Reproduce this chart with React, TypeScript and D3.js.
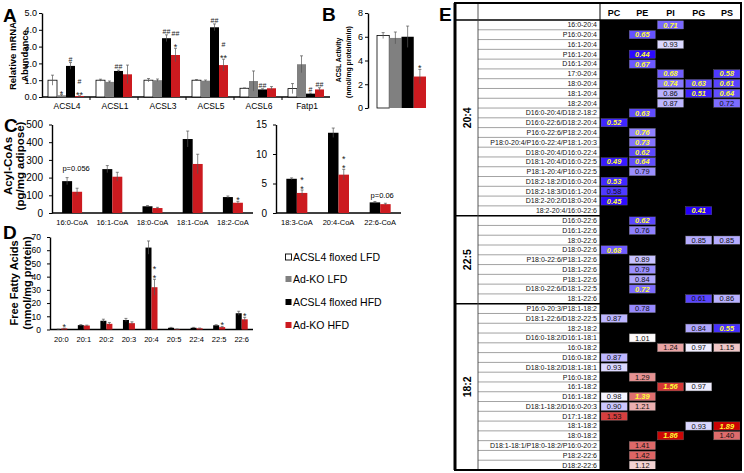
import React, { useRef, useEffect } from 'react';
import * as d3 from 'd3';

const FONT = 'Liberation Sans, Arial, Helvetica, sans-serif';

// ---- A: relative mRNA abundance
const genes = ['ACSL4', 'ACSL1', 'ACSL3', 'ACSL5', 'ACSL6', 'Fatp1'];
const groupNames = ['ACSL4 floxed LFD', 'Ad-KO LFD', 'ACSL4 floxed HFD', 'Ad-KO HFD'];
const groupColors = ['#ffffff', '#808080', '#000000', '#cc1a1f'];
const mrnaFloxLFD = [1.0, 1.0, 1.0, 1.0, 0.52, 0.5];
const mrnaKoLFD = [0.1, 0.9, 1.0, 0.97, 0.95, 1.95];
const mrnaFloxHFD = [1.85, 1.55, 3.5, 4.15, 0.45, 0.2];
const mrnaKoHFD = [0.05, 1.35, 2.5, 1.9, 0.52, 0.45];
const mrnaErrFloxLFD = [0.3, 0.06, 0.1, 0.04, 0.02, 0.3];
const mrnaErrKoLFD = [0.04, 0.05, 0.07, 0.04, 0.6, 0.5];
const mrnaErrFloxHFD = [0.2, 0.05, 0.2, 0.2, 0.04, 0.03];
const mrnaErrKoHFD = [0.02, 0.55, 0.4, 0.35, 0.1, 0.1];
const mrnaSigKoLFD = ['*', '', '', '', '', ''];
const mrnaSigFloxHFD = ['#', '##', '##', '##', '##', '#'];
const mrnaSigKoHFD = ['#|**', '', '##|*', '#|**', '', '##'];

// ---- B: ACSL activity
const activity = [6.1, 5.9, 6.0, 2.65];
const activityErr = [0.25, 0.5, 0.9, 0.6];
const activitySig = ['', '', '', '*'];

// ---- C: acyl-CoAs
const coaLeft = ['16:0-CoA', '16:1-CoA', '18:0-CoA', '18:1-CoA', '18:2-CoA'];
const coaLeftFlox = [180, 248, 38, 418, 90];
const coaLeftFloxErr = [20, 20, 4, 45, 6];
const coaLeftKo = [120, 205, 28, 277, 58];
const coaLeftKoErr = [20, 25, 4, 55, 8];
const coaLeftSig = ['', '', '', '', '*'];
const coaRight = ['18:3-CoA', '20:4-CoA', '22:6-CoA'];
const coaRightFlox = [5.8, 13.6, 1.8];
const coaRightFloxErr = [0.15, 0.8, 0.15];
const coaRightKo = [3.4, 6.5, 1.5];
const coaRightKoErr = [0.5, 0.9, 0.15];
const coaRightSig = ['*|*', '*|*', ''];

// ---- D: free fatty acids
const ffaCats = ['20:0', '20:1', '20:2', '20:3', '20:4', '20:5', '22:4', '22:5', '22:6'];
const ffaFlox = [0.2, 3.3, 6.6, 7.2, 62, 1.3, 1.3, 3.2, 12.3];
const ffaFloxErr = [0.1, 0.4, 1.2, 1.2, 5, 0.3, 0.3, 0.4, 1.5];
const ffaKo = [0.8, 3.0, 4.3, 4.8, 32, 0.3, 0.9, 1.8, 7.7];
const ffaKoErr = [0.2, 0.3, 1.0, 1.0, 6, 0.1, 0.2, 0.5, 1.5];
const ffaSig = ['*', '', '', '', '*|*', '', '', '*', '*'];

// ---- E: lipid species heatmap (fold change)
const heatClasses = ['PC', 'PE', 'PI', 'PG', 'PS'];
const heatGroupNames = ['20:4', '22:5', '18:2'];
const heatGroupSizes = [20, 9, 17];
const heatRowLabels = [
  '16:0-20:4', 'P16:0-20:4', '16:1-20:4', 'P16:1-20:4', 'D16:1-20:4', '17:0-20:4', '18:0-20:4',
  '18:1-20:4', '18:2-20:4', 'D16:0-20:4/D18:2-18:2', 'D16:0-22:6/D18:2-20:4', 'P16:0-22:6/P18:2-20:4',
  'P18:0-20:4/P16:0-22:4/P18:1-20:3', 'D18:0-20:4/D16:0-22:4', 'D18:1-20:4/D16:0-22:5',
  'P18:1-20:4/P16:0-22:5', 'D18:2-18:2/D16:0-20:4', 'D18:2-18:3/D16:1-20:4', 'D18:2-20:2/D18:0-20:4',
  '18:2-20:4/16:0-22:6',
  'D16:0-22:6', 'D16:1-22:6', '18:0-22:6', 'D18:0-22:6', 'P18:0-22:6/P18:1-22:6', 'D18:1-22:6',
  'P18:1-22:6', 'D18:0-22:6/D18:1-22:5', '18:1-22:6',
  'P16:0-20:3/P18:1-18:2', 'D18:1-22:6/D18:2-22:5', '18:2-18:2', 'D16:0-18:2/D16:1-18:1', '16:0-18:2',
  'D16:0-18:2', 'D18:0-18:2/D18:1-18:1', 'P16:0-18:2', '16:1-18:2', 'D16:1-18:2', 'D18:1-18:2/D16:0-20:3',
  'D17:1-18:2', '18:1-18:2', '18:0-18:2', 'D18:1-18:1/P18:0-18:2/P16:0-20:2', 'P18:2-22:6', 'D18:2-22:6',
];
const n = null;
const heatValues: (number | null)[][] = [
  [n, n, 0.71, n, n], [n, 0.65, n, n, n], [n, n, 0.93, n, n], [n, 0.44, n, n, n], [n, 0.67, n, n, n],
  [n, n, 0.68, n, 0.58], [n, n, 0.74, 0.63, 0.61], [n, n, 0.86, 0.51, 0.64], [n, n, 0.87, n, 0.72],
  [n, 0.63, n, n, n], [0.52, n, n, n, n], [n, 0.76, n, n, n], [n, 0.73, n, n, n], [n, 0.62, n, n, n],
  [0.49, 0.64, n, n, n], [n, 0.79, n, n, n], [0.53, n, n, n, n], [0.58, n, n, n, n], [0.45, n, n, n, n],
  [n, n, n, 0.41, n],
  [n, 0.62, n, n, n], [n, 0.76, n, n, n], [n, n, n, 0.85, 0.85], [0.68, n, n, n, n], [n, 0.89, n, n, n],
  [n, 0.79, n, n, n], [n, 0.84, n, n, n], [n, 0.72, n, n, n], [n, n, n, 0.61, 0.86],
  [n, 0.78, n, n, n], [0.87, n, n, n, n], [n, n, n, 0.84, 0.55], [n, 1.01, n, n, n], [n, n, 1.24, 0.97, 1.15],
  [0.87, n, n, n, n], [0.93, n, n, n, n], [n, 1.29, n, n, n], [n, n, 1.56, 0.97, n], [0.98, 1.39, n, n, n],
  [0.90, 1.21, n, n, n], [1.53, n, n, n, n], [n, n, n, 0.93, 1.89], [n, n, 1.86, n, 1.40],
  [n, 1.41, n, n, n], [n, 1.42, n, n, n], [n, 1.12, n, n, n],
];
const heatSig = [
  'PI', 'PE', '', 'PE', 'PE', 'PI PS', 'PI PG PS', 'PG PS', '', 'PE', 'PC', 'PE', 'PE', 'PE', 'PC PE', '',
  'PC', '', 'PC', 'PG',
  'PE', '', '', 'PC', '', '', '', 'PE', '',
  '', '', 'PS', '', '', '', '', '', 'PI', 'PE', '', '', 'PS', 'PI', '', '', '',
];

const App = () => {
  const svgRef = useRef<SVGSVGElement>(null);

  useEffect(() => {
    const svg = d3.select(svgRef.current);
    svg.selectAll('*').remove();
    svg.append('rect').attr('width', 744).attr('height', 473).attr('fill', '#fff');

    const text = (x: number, y: number, s: string, size: number, weight = 'normal', anchor = 'start') =>
      svg.append('text').attr('x', x).attr('y', y).text(s)
        .attr('font-family', FONT).attr('font-size', size).attr('font-weight', weight)
        .attr('text-anchor', anchor).attr('fill', '#000');

    const vText = (cx: number, cy: number, s: string, size: number, weight = 'bold') =>
      svg.append('text').attr('transform', `translate(${cx},${cy}) rotate(-90)`)
        .attr('dy', '0.35em').text(s).attr('text-anchor', 'middle')
        .attr('font-family', FONT).attr('font-size', size).attr('font-weight', weight);

    const yAxis = (scale: any, x: number, ticks: number[], size: number, pad: number) => {
      const ax = svg.append('g').attr('transform', `translate(${x},0)`)
        .call(d3.axisLeft(scale).tickValues(ticks).tickSize(3).tickSizeOuter(0).tickPadding(pad));
      ax.attr('font-family', FONT).attr('font-size', size);
      ax.select('.domain').attr('stroke-width', 1.4);
      ax.selectAll('.tick line').attr('stroke-width', 1);
      return ax;
    };

    const xLine = (x0: number, x1: number, y: number) =>
      svg.append('line').attr('x1', x0).attr('x2', x1).attr('y1', y).attr('y2', y)
        .attr('stroke', '#000').attr('stroke-width', 1.4);

    // stacked significance marks above a point
    const sigMarks = (cx: number, top: number, s: string) => {
      if (!s) return;
      const lines = s.split('|');
      let cursor = top - 1;
      for (let k = lines.length - 1; k >= 0; k--) {
        const ln = lines[k];
        const star = ln.includes('*');
        text(cx, star ? cursor + 3 : cursor, ln, star ? 9 : 7, 'normal', 'middle').attr('fill', '#222');
        const upper = lines[k - 1];
        cursor -= upper && upper.includes('*') ? 9 : 11;
      }
    };

    const groupedBars = (cats: string[], means: number[][], errs: number[][], sigs: (string[] | null)[],
      colors: string[], x0: number, x1: number, barW: number, y: any) => {
      const band = d3.scaleBand().domain(cats).range([x0, x1]);
      const g = svg.append('g');
      const eg = svg.append('g');
      means.forEach((series, j) => {
        const off = -means.length * barW / 2 + j * barW;
        cats.forEach((c, i) => {
          const bx = (band(c) as number) + band.bandwidth() / 2 + off;
          const v = series[i];
          const e = errs[j][i];
          const white = colors[j] === '#ffffff';
          g.append('rect').attr('x', bx).attr('y', y(v)).attr('width', barW)
            .attr('height', y(0) - y(v)).attr('fill', colors[j])
            .attr('stroke', white ? '#000' : 'none').attr('stroke-width', 0.8);
          const cx = bx + barW / 2;
          if (e > 0) {
            eg.append('line').attr('x1', cx).attr('x2', cx).attr('y1', y(v + e)).attr('y2', y(Math.max(0, v - e)))
              .attr('stroke', '#555').attr('stroke-width', 0.7);
            eg.append('line').attr('x1', cx - 1.5).attr('x2', cx + 1.5).attr('y1', y(v + e)).attr('y2', y(v + e))
              .attr('stroke', '#555').attr('stroke-width', 0.7);
          }
          const sg = sigs[j];
          if (sg) sigMarks(cx, y(v + e), sg[i]);
        });
      });
      return band;
    };

    // ================= Panel A
    text(3, 22, 'A', 19, 'bold');
    vText(13, 56, 'Relative mRNA', 9.5);
    vText(25, 56, 'Abundance', 9.5);
    const yA = d3.scaleLinear().domain([0, 5]).range([97, 13]);
    yAxis(yA, 42, [0, 1, 2, 3, 4, 5], 9, 2);
    xLine(42, 330, 97);
    const bandA = groupedBars(genes, [mrnaFloxLFD, mrnaKoLFD, mrnaFloxHFD, mrnaKoHFD],
      [mrnaErrFloxLFD, mrnaErrKoLFD, mrnaErrFloxHFD, mrnaErrKoHFD],
      [null, mrnaSigKoLFD, mrnaSigFloxHFD, mrnaSigKoHFD], groupColors, 42, 330, 9, yA);
    genes.forEach((c, i) => {
      const bx = (bandA(c) as number) + bandA.bandwidth();
      if (i < genes.length - 1)
        svg.append('line').attr('x1', bx).attr('x2', bx).attr('y1', 97).attr('y2', 100).attr('stroke', '#000');
      text((bandA(c) as number) + bandA.bandwidth() / 2 + 1, 109, c, 8.5, 'normal', 'middle');
    });

    // ================= Panel B
    text(322, 21, 'B', 19, 'bold');
    vText(339, 60, 'ACSL Activity', 6.8);
    vText(348.5, 62, '(nmol/mg protein/min)', 6.8);
    const yB = d3.scaleLinear().domain([0, 8]).range([108, 13]);
    yAxis(yB, 368, [0, 2, 4, 6, 8], 9, 2);
    const bandB = d3.scaleBand().domain(groupNames).range([377, 426]);
    groupNames.forEach((gname, i) => {
      const bx = bandB(gname) as number;
      const v = activity[i];
      const e = activityErr[i];
      svg.append('rect').attr('x', bx).attr('y', yB(v)).attr('width', bandB.bandwidth())
        .attr('height', yB(0) - yB(v)).attr('fill', groupColors[i])
        .attr('stroke', i === 0 ? '#000' : 'none').attr('stroke-width', 0.8);
      const cx = bx + bandB.bandwidth() / 2;
      svg.append('line').attr('x1', cx).attr('x2', cx).attr('y1', yB(v + e)).attr('y2', yB(v - e))
        .attr('stroke', '#555').attr('stroke-width', 0.7);
      svg.append('line').attr('x1', cx - 1.5).attr('x2', cx + 1.5).attr('y1', yB(v + e)).attr('y2', yB(v + e))
        .attr('stroke', '#555').attr('stroke-width', 0.7);
      sigMarks(cx, yB(v + e), activitySig[i]);
    });

    // ================= Panel C
    text(4, 132, 'C', 19, 'bold');
    vText(8, 166, 'Acyl-CoAs', 11.5);
    vText(20, 166, '(pg/mg adipose)', 11.5);
    const yC = d3.scaleLinear().domain([0, 500]).range([213, 124.5]);
    yAxis(yC, 52, [0, 100, 200, 300, 400, 500], 10, 6);
    xLine(52, 253, 213);
    const bandC = groupedBars(coaLeft, [coaLeftFlox, coaLeftKo], [coaLeftFloxErr, coaLeftKoErr],
      [null, coaLeftSig], ['#000000', '#cc1a1f'], 52, 253, 10, yC);
    coaLeft.forEach(c => text((bandC(c) as number) + bandC.bandwidth() / 2, 225, c, 7.5, 'normal', 'middle'));
    text((bandC('16:0-CoA') as number) + bandC.bandwidth() / 2 + 4, 171, 'p=0.056', 7.5, 'normal', 'middle');

    const yC2 = d3.scaleLinear().domain([0, 15]).range([213, 124.5]);
    yAxis(yC2, 276, [0, 5, 10, 15], 10, 6);
    xLine(276, 401, 213);
    const bandC2 = groupedBars(coaRight, [coaRightFlox, coaRightKo], [coaRightFloxErr, coaRightKoErr],
      [null, coaRightSig], ['#000000', '#cc1a1f'], 276, 401, 10.5, yC2);
    coaRight.forEach(c => text((bandC2(c) as number) + bandC2.bandwidth() / 2, 225, c, 7.5, 'normal', 'middle'));
    text((bandC2('22:6-CoA') as number) + bandC2.bandwidth() / 2 + 2, 198, 'p=0.06', 7.5, 'normal', 'middle');

    // legend
    groupNames.forEach((gname, i) => {
      const ly = [257, 279, 302, 325][i];
      svg.append('rect').attr('x', 285.5).attr('y', ly - 3).attr('width', 6).attr('height', 6)
        .attr('fill', groupColors[i]).attr('stroke', i === 0 ? '#000' : 'none').attr('stroke-width', 0.9);
      text(293, ly + 4, gname, 10.5);
    });

    // ================= Panel D
    text(3, 239, 'D', 19, 'bold');
    vText(14, 283, 'Free Fatty Acids', 11);
    vText(27, 283, '(nmol/mg protein)', 11);
    const yD = d3.scaleLinear().domain([0, 70]).range([329.5, 237]);
    yAxis(yD, 50, d3.range(0, 71, 10), 8.5, 6);
    xLine(50, 253, 329.5);
    const bandD = groupedBars(ffaCats, [ffaFlox, ffaKo], [ffaFloxErr, ffaKoErr], [null, ffaSig],
      ['#000000', '#cc1a1f'], 50, 253, 6, yD);
    ffaCats.forEach(c => text((bandD(c) as number) + bandD.bandwidth() / 2, 342, c, 7.5, 'normal', 'middle'));

    // ================= Panel E heatmap
    text(439, 21, 'E', 19, 'bold');
    const hx0 = 455, hGroupR = 478, hLabelR = 600, hx1 = 741;
    const hy0 = 3, hHead = 20, hy1 = 470;
    const col = d3.scaleBand().domain(heatClasses).range([hLabelR, hx1]);
    const row = d3.scaleBand<number>().domain(d3.range(heatRowLabels.length)).range([hHead, hy1]);
    const heatColor = d3.scaleLinear<string>()
      .domain([0.41, 0.55, 0.7, 0.87, 1.0, 1.12, 1.25, 1.55, 1.9])
      .range(['#2600ff', '#4630ff', '#7563ff', '#bdb6ff', '#ffffff', '#f3d3d3', '#e8a0a0', '#d43838', '#cc0000'])
      .interpolate(d3.interpolateRgb).clamp(true);

    const hg = svg.append('g');
    hg.append('rect').attr('x', hLabelR).attr('y', hHead).attr('width', hx1 - hLabelR).attr('height', hy1 - hHead)
      .attr('fill', '#000');
    heatClasses.forEach(c => {
      hg.append('rect').attr('x', (col(c) as number) + 1).attr('y', hy0 + 2).attr('width', col.bandwidth() - 2)
        .attr('height', hHead - hy0 - 3).attr('fill', '#fff');
      hg.append('text').attr('x', (col(c) as number) + col.bandwidth() / 2).attr('y', 15.5).text(c)
        .attr('text-anchor', 'middle').attr('font-family', FONT).attr('font-size', 9).attr('font-weight', 'bold');
    });
    hg.append('line').attr('x1', hx0).attr('x2', hx1).attr('y1', hHead).attr('y2', hHead)
      .attr('stroke', '#000').attr('stroke-width', 1.5);
    heatRowLabels.forEach((lab, i) => {
      const ry = row(i) as number;
      if (i > 0)
        hg.append('line').attr('x1', hGroupR).attr('x2', hLabelR).attr('y1', ry).attr('y2', ry)
          .attr('stroke', '#8a8a8a').attr('stroke-width', 0.8);
      hg.append('text').attr('x', hLabelR - 3).attr('y', ry + row.bandwidth() / 2).attr('dy', '0.35em').text(lab)
        .attr('text-anchor', 'end').attr('font-family', FONT).attr('font-size', 7).attr('fill', '#111');
      heatValues[i].forEach((v, j) => {
        if (v === null) return;
        const c = heatClasses[j];
        const sig = heatSig[i].split(' ').includes(c);
        hg.append('rect').attr('x', (col(c) as number) + 1).attr('y', ry + 0.8)
          .attr('width', col.bandwidth() - 2).attr('height', row.bandwidth() - 1.6)
          .attr('fill', heatColor(v)).attr('stroke', '#666').attr('stroke-width', 0.4);
        hg.append('text').attr('x', (col(c) as number) + col.bandwidth() / 2).attr('y', ry + row.bandwidth() / 2)
          .attr('dy', '0.35em').text(d3.format('.2f')(v)).attr('text-anchor', 'middle')
          .attr('font-family', FONT).attr('font-size', 7.5)
          .attr('font-weight', sig ? 'bold' : 'normal').attr('font-style', sig ? 'italic' : 'normal')
          .attr('fill', sig ? '#ffff33' : '#111');
      });
    });
    let start = 0;
    heatGroupNames.forEach((gname, k) => {
      const gy0 = row(start) as number;
      const gy1 = (row(start + heatGroupSizes[k] - 1) as number) + row.bandwidth();
      hg.append('text').attr('transform', `translate(${(hx0 + hGroupR) / 2 + 1},${(gy0 + gy1) / 2}) rotate(-90)`)
        .attr('dy', '0.35em').text(gname).attr('text-anchor', 'middle')
        .attr('font-family', FONT).attr('font-size', 10.5).attr('font-weight', 'bold');
      if (k > 0)
        hg.append('line').attr('x1', hx0).attr('x2', hx1).attr('y1', gy0).attr('y2', gy0)
          .attr('stroke', '#000').attr('stroke-width', 1.5);
      start += heatGroupSizes[k];
    });
    hg.append('line').attr('x1', hGroupR).attr('x2', hGroupR).attr('y1', hy0).attr('y2', hy1)
      .attr('stroke', '#444').attr('stroke-width', 0.9);
    hg.append('line').attr('x1', hLabelR).attr('x2', hLabelR).attr('y1', hy0).attr('y2', hy1)
      .attr('stroke', '#000').attr('stroke-width', 1);
    hg.append('rect').attr('x', hx0).attr('y', hy0).attr('width', hx1 - hx0).attr('height', hy1 - hy0)
      .attr('fill', 'none').attr('stroke', '#000').attr('stroke-width', 2);
    hg.append('line').attr('x1', hx0).attr('x2', hx0).attr('y1', hy0).attr('y2', hy1)
      .attr('stroke', '#000').attr('stroke-width', 3);
  }, []);

  return <svg ref={svgRef} width={744} height={473} style={{ position: 'absolute', left: 0, top: 0 }}></svg>;
};

export default App;
